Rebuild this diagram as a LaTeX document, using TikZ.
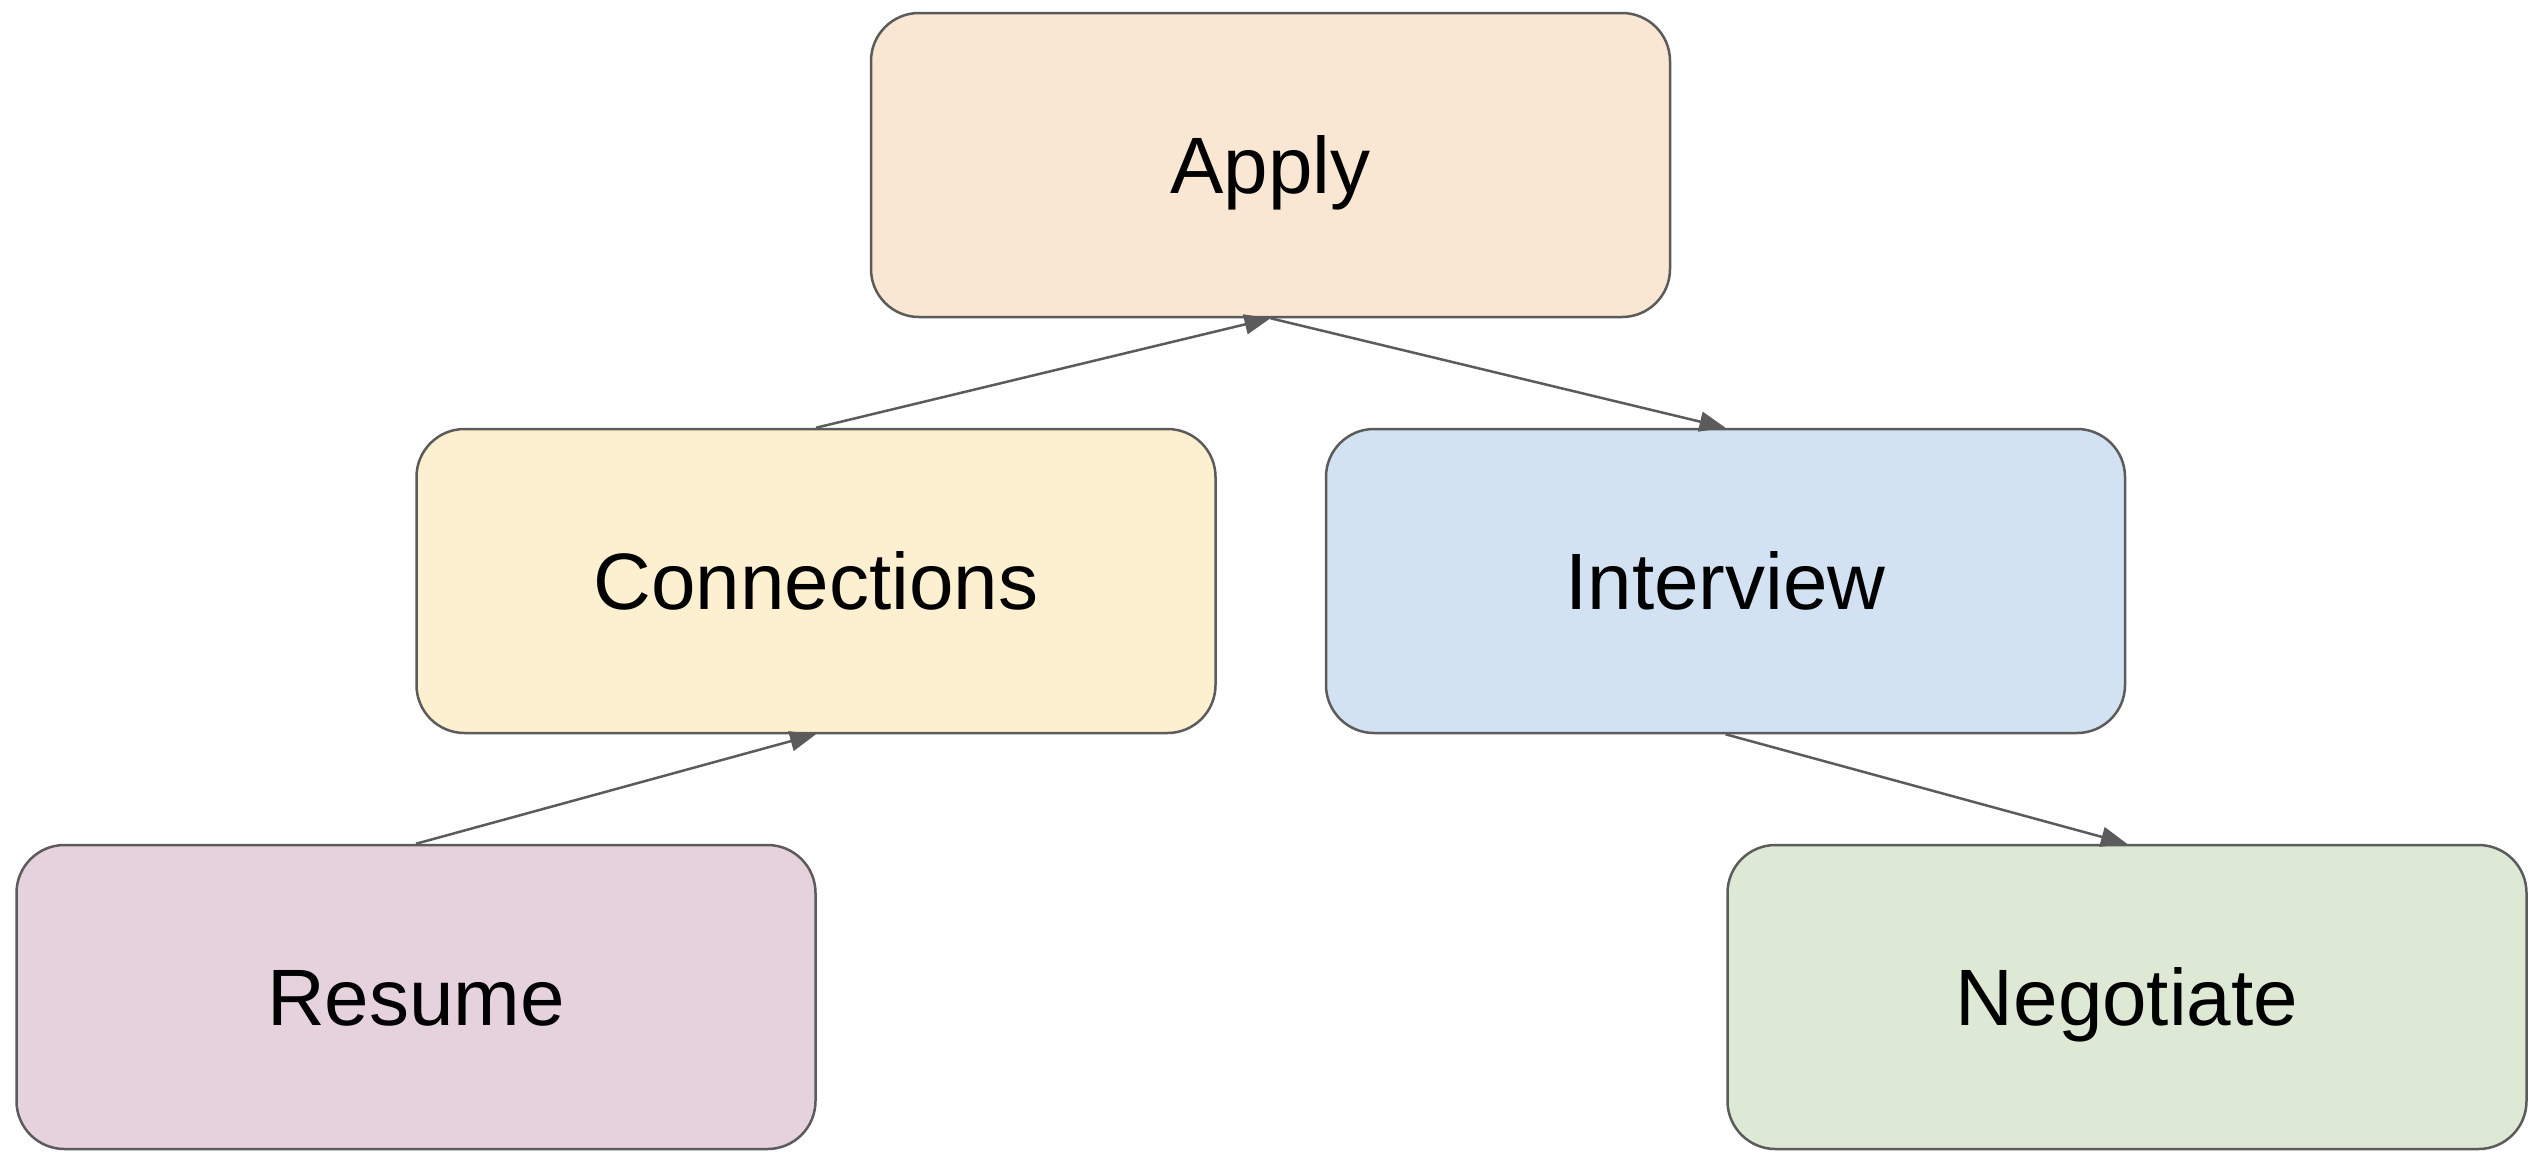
\documentclass[tikz,border=0pt]{standalone}
\usepackage{fontspec}
\setmainfont{Liberation Sans}
\usetikzlibrary{arrows.meta}
\definecolor{edgecol}{HTML}{5B5B5B}
\definecolor{cApply}{HTML}{F9E6D3}
\definecolor{cConn}{HTML}{FCF0D0}
\definecolor{cInt}{HTML}{D3E2F2}
\definecolor{cRes}{HTML}{E6D2DD}
\definecolor{cNeg}{HTML}{DDE8D5}
\tikzset{
  box/.style={rectangle, rounded corners=48pt, draw=edgecol, line width=2.5pt,
    minimum width=799pt, minimum height=304pt, inner sep=0pt,
    text height=57pt, text depth=0pt,
    font=\fontsize{80}{96}\selectfont, text=black},
  arr/.style={draw=edgecol, line width=2.5pt, -{Triangle[length=26pt,width=20pt]}}
}
\begin{document}
\begin{tikzpicture}[x=1pt,y=-1pt]
\useasboundingbox (0,0) rectangle (2538,1160);
\node[box, fill=cApply] (apply) at (1270.5,165) {Apply};
\node[box, fill=cConn] (conn) at (816,581) {Connections};
\node[box, fill=cInt] (interv) at (1725.5,581) {Interview};
\node[box, fill=cRes] (resume) at (416,997) {Resume};
\node[box, fill=cNeg] (nego) at (2127,997) {Negotiate};
\draw[arr] (conn.north) -- (apply.south);
\draw[arr] (apply.south) -- (interv.north);
\draw[arr] (resume.north) -- (conn.south);
\draw[arr] (interv.south) -- (nego.north);
\end{tikzpicture}
\end{document}
